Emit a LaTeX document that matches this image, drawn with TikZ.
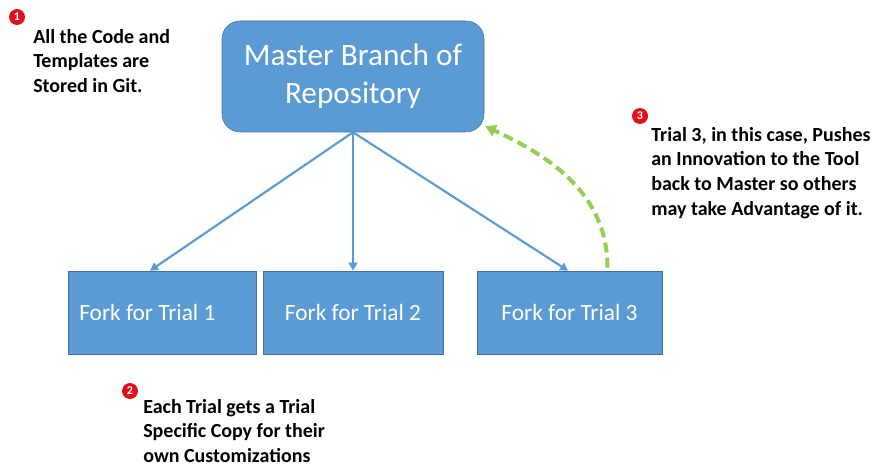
\documentclass[tikz,border=0pt]{standalone}
\usepackage{fontspec}
\setmainfont{Carlito}
\usepackage{tikz}
\usetikzlibrary{arrows.meta,positioning}
\definecolor{boxblue}{HTML}{5B9BD5}
\definecolor{boxedge}{HTML}{41719C}
\definecolor{pushgreen}{HTML}{92D050}
\definecolor{badgered}{HTML}{E3101A}

\begin{document}
\begin{tikzpicture}[x=0.75pt,y=0.75pt,
	master/.style={draw=boxedge,fill=boxblue,rounded corners=13.5pt,minimum width=196.5pt,minimum height=83.25pt,text=white,align=center,font=\fontsize{23.4}{28.5}\selectfont},
	fork/.style={draw=boxedge,fill=boxblue,minimum height=62.25pt,text=white,font=\fontsize{17.5}{20}\selectfont},
	note/.style={anchor=north west,inner sep=0pt,align=left,font=\bfseries\fontsize{15}{18.5}\selectfont},
	badge/.style={circle,fill=badgered,text=white,inner sep=0pt,minimum size=12pt,font=\bfseries\fontsize{9}{9}\selectfont},
	branch/.style={boxblue,line width=1.6pt,-{Triangle[length=6pt,width=6.5pt]}},
	push/.style={pushgreen,line width=3pt,dash pattern=on 7.5pt off 4pt,-{Triangle[length=8pt,width=9pt]}}]
	\useasboundingbox (0,0) rectangle (881,465);
	% boxes
	\node[master] (master) at (353,388.5) {Master Branch of\\Repository};
	\node[fork,minimum width=141pt,text width=124pt,align=flush left] (fork1) at (162,152.5) {Fork for Trial 1};
	\node[fork,minimum width=135pt] (fork2) at (353,152.5) {Fork for Trial 2};
	\node[fork,minimum width=138.75pt] (fork3) at (569.5,152.5) {Fork for Trial 3};
	% forks
	\draw[branch] (master.south) -- ([xshift=-9pt]fork1.north);
	\draw[branch] (master.south) -- (fork2.north);
	\draw[branch] (master.south) -- ([xshift=-1pt]fork3.north);
	% push back to master
	\coordinate (pushstart) at ([shift={(38,3)}]fork3.north);
	\coordinate (pushend) at ([shift={(1,6)}]master.south east);
	\draw[push] (pushstart) to[out=90,in=-25] (pushend);
	% notes
	\node[note] (note1) at (33,436) {All the Code and\\Templates are\\Stored in Git.};
	\node[note] (note2) at (143,66) {Each Trial gets a Trial\\Specific Copy for their\\own Customizations};
	\node[note] (note3) at (651,338) {Trial 3, in this case, Pushes\\an Innovation to the Tool\\back to Master so others\\may take Advantage of it.};
	\node[badge] (badge1) at (17,448) {1};
	\node[badge] (badge2) at (130,74) {2};
	\node[badge] (badge3) at (640,349) {3};
\end{tikzpicture}
\end{document}
